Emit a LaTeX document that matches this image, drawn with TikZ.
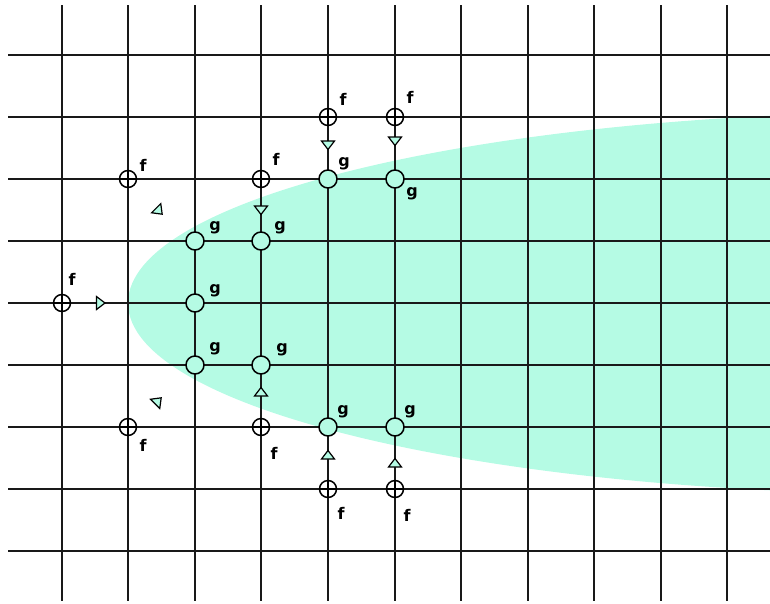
\documentclass[tikz,border=0pt]{standalone}
\usepackage{fontspec}
\setsansfont{DejaVu Sans}
\definecolor{mint}{RGB}{181,251,228}
\begin{document}
\begin{tikzpicture}[x=1pt,y=-1pt,
  grid/.style={line width=1.8pt, black!90},
  fmark/.style={circle, draw, line width=1.5pt, fill=white, minimum size=17pt, inner sep=0pt,
    path picture={\draw[line width=1.3pt] (path picture bounding box.north) -- (path picture bounding box.south)
      (path picture bounding box.west) -- (path picture bounding box.east);}},
  gmark/.style={circle, draw, line width=1.5pt, fill=mint, minimum size=18pt, inner sep=0pt},
  lab/.style={font=\sffamily\bfseries\fontsize{16}{16}\selectfont, inner sep=0pt},
  tri/.pic={\draw[fill=mint, line width=1.2pt, line join=miter] (-4,-6.5) -- (4.5,0) -- (-4,6.5) -- cycle;}
]
\useasboundingbox (0,0) rectangle (770,603);
\begin{scope}
\clip (0,0) rectangle (770,603);
\fill[mint] (928,303) ellipse [x radius=800, y radius=191];
\end{scope}
% grid
\foreach \x in {62,128,195,261,328,395,461,528,594,661,727}
  \draw[grid] (\x,5) -- (\x,601);
\foreach \y in {55,117,179,241,303,365,427,489,551}
  \draw[grid] (8,\y) -- (770,\y);
% f markers
\node[fmark] (f1) at (62,303) {};
\node[fmark] (f2) at (128,179) {};
\node[fmark] (f3) at (261,179) {};
\node[fmark] (f4) at (328,117) {};
\node[fmark] (f5) at (395,117) {};
\node[fmark] (f6) at (128,427) {};
\node[fmark] (f7) at (261,427) {};
\node[fmark] (f8) at (328,489) {};
\node[fmark] (f9) at (395,489) {};
% g markers
\node[gmark] (g1) at (195,241) {};
\node[gmark] (g2) at (261,241) {};
\node[gmark] (g3) at (195,303) {};
\node[gmark] (g4) at (195,365) {};
\node[gmark] (g5) at (261,365) {};
\node[gmark] (g6) at (328,179) {};
\node[gmark] (g7) at (395,179) {};
\node[gmark] (g8) at (328,427) {};
\node[gmark] (g9) at (395,427) {};
% triangles
\pic at (100.5,303) {tri};
\pic[rotate=-45] at (159,211) {tri};
\pic[rotate=45] at (158,401) {tri};
\pic[rotate=-90] at (261,210) {tri};
\pic[rotate=-90] at (328,145) {tri};
\pic[rotate=-90] at (395,141) {tri};
\pic[rotate=90] at (261,392) {tri};
\pic[rotate=90] at (328,455) {tri};
\pic[rotate=90] at (395,463) {tri};
% labels
\node[lab] (lf1) at (72,279) {f};
\node[lab] (lf2) at (143,165) {f};
\node[lab] (lf3) at (276,159) {f};
\node[lab] (lf4) at (343,99) {f};
\node[lab] (lf5) at (410,97) {f};
\node[lab] (lf6) at (143,445) {f};
\node[lab] (lf7) at (274,453) {f};
\node[lab] (lf8) at (341,513) {f};
\node[lab] (lf9) at (407,515) {f};
\node[lab] (lg1) at (215,228) {g};
\node[lab] (lg2) at (280,228) {g};
\node[lab] (lg3) at (215,291) {g};
\node[lab] (lg4) at (215,349) {g};
\node[lab] (lg5) at (282,350) {g};
\node[lab] (lg6) at (344,164) {g};
\node[lab] (lg7) at (412,194) {g};
\node[lab] (lg8) at (343,412) {g};
\node[lab] (lg9) at (410,412) {g};
\end{tikzpicture}
\end{document}
